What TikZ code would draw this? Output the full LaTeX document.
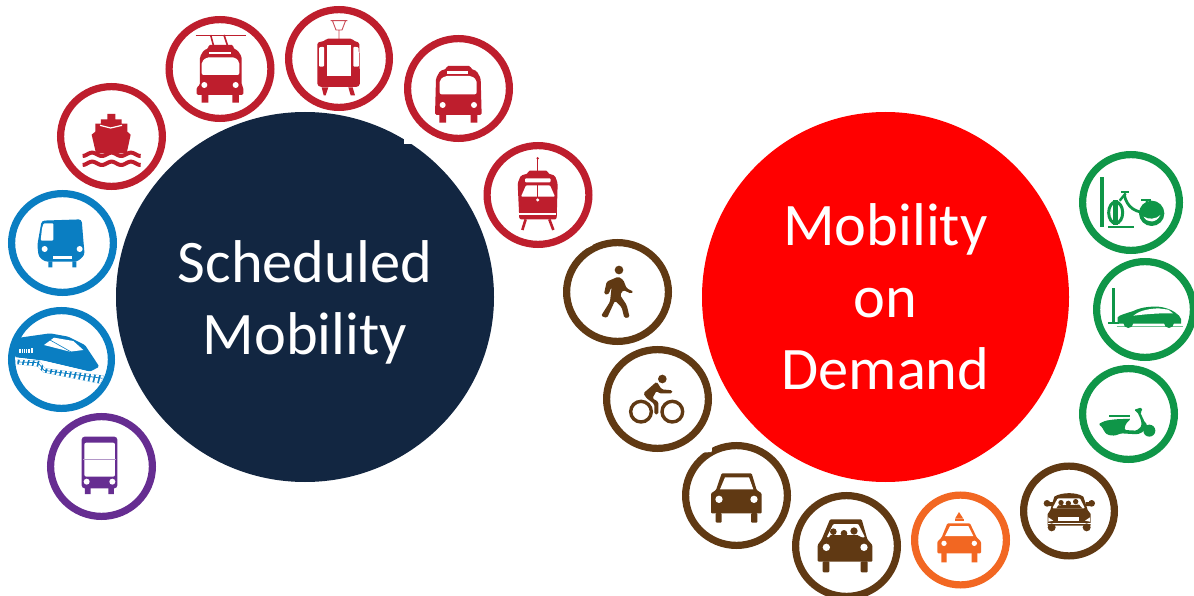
\documentclass[tikz,border=0pt]{standalone}
\usepackage{fontspec}
\setmainfont{Carlito}
\usetikzlibrary{shapes.geometric}
\definecolor{navy}{HTML}{122641}
\definecolor{crim}{HTML}{BE1E2D}
\definecolor{blu}{HTML}{0A7EC2}
\definecolor{purp}{HTML}{662D91}
\definecolor{brn}{HTML}{603913}
\definecolor{grn}{HTML}{0F9648}
\definecolor{org}{HTML}{F26722}
\tikzset{
  ring/.style n args={3}{ellipse,draw=#1,line width=7.2pt,fill=white,inner sep=0pt,outer sep=0pt,minimum width=#2pt-7.2pt,minimum height=#3pt-7.2pt},
  bigdisc/.style n args={3}{ellipse,fill=#1,inner sep=0pt,outer sep=0pt,minimum width=#2pt,minimum height=#3pt},
  bigtext/.style={text=white,inner sep=0pt,outer sep=0pt,align=center,font=\fontsize{60.4}{72}\selectfont},
  zoomed/.style 2 args={shift={(#1,#2)},x=0.33333pt,y=-0.33333pt},
}
\begin{document}
\begin{tikzpicture}[x=1pt,y=-1pt]
\useasboundingbox (0,0) rectangle (1194,596);
\fill[white] (0,0) rectangle (1194,596);
% big discs
\node[bigdisc={navy}{378}{370}] (sched) at (305,297) {};
\node[bigtext] (schedlabel) at (305,302) {Scheduled\\Mobility};
\node[bigdisc={red}{367}{370}] (mod) at (885.5,297) {};
\node[bigtext] (modlabel) at (885.5,297) {Mobility\\on\\Demand};
% rings
\node[ring={crim}{109}{107}] (ship) at (111.5,136.5) {};
\node[ring={crim}{109}{106}] (trolley) at (220,69) {};
\node[ring={crim}{108}{105}] (tram) at (339,58.5) {};
\node[ring={crim}{109}{107}] (bus) at (458.5,88.5) {};
\node[ring={crim}{109}{106}] (streetcar) at (538,195) {};
\node[ring={blu}{109}{106}] (metro) at (62.5,243) {};
\node[ring={blu}{107}{105}] (train) at (61.5,359.5) {};
\node[ring={purp}{109}{107}] (dbus) at (101.5,466.5) {};
\node[ring={grn}{104}{103}] (bikeshare) at (1131,202.5) {};
\node[ring={grn}{104}{103}] (carshare) at (1145,309.5) {};
\node[ring={grn}{99}{98}] (scooter) at (1128.5,414) {};
\node[ring={brn}{109}{106}] (walk) at (617.5,292) {};
\node[ring={brn}{109}{106}] (cycle) at (657.5,399) {};
\node[ring={brn}{109}{107}] (car) at (736.5,495.5) {};
\node[ring={brn}{109}{108}] (pool) at (846.5,546) {};
\node[ring={org}{99}{97}] (taxi) at (960.5,540) {};
\node[ring={brn}{98}{97}] (ride) at (1069,511) {};

% notches
\fill[white] (404,139) rectangle (413,144);
\begin{scope}[zoomed={555}{230}]
\fill[white] (88,38) -- (116,38) -- (112,46) -- (96,54) -- cycle;
\fill[white] (440,640) -- (472,640) -- (470,666) -- (440,668) -- cycle;
\end{scope}

% ---- crop 1
\begin{scope}[zoomed={0}{0}]
% ship
\fill[crim] (322,342) -- (346,342) -- (346,358) -- (365,358) -- (365,371) -- (382,371) -- (382,395) -- (392,404) -- (380,460) -- (288,460) -- (275,404) -- (286,395) -- (286,371) -- (303,371) -- (303,358) -- (322,358) -- cycle;
\draw[white,line width=1.2pt] (300,376) -- (332,384) -- (366,376);
\draw[crim,line width=4pt] plot[domain=248:422,samples=70,smooth] (\x,{463+5*sin(6.2*(\x-233))});
\draw[crim,line width=4pt] plot[domain=248:422,samples=70,smooth] (\x,{490+5*sin(6.2*(\x-233))});
% trolley bus
\draw[crim,line width=0.8pt] (587,105) -- (737,105);
\draw[crim,line width=1.6pt] (632,105) -- (640,135) (672,105) -- (682,135);
\fill[crim,rounded corners=1.5pt] (590,285) -- (590,262) -- (600,255) -- (600,170) -- (612,150) -- (625,146) -- (625,135) -- (700,135) -- (700,146) -- (712,150) -- (725,170) -- (725,255) -- (730,262) -- (730,285) -- cycle;
\fill[white,rounded corners=2pt] (605,225) -- (605,185) -- (620,172) -- (705,172) -- (718,185) -- (718,225) -- cycle;
\fill[white] (628,155) rectangle (692,163);
\fill[white] (613,255) circle (9) (707,255) circle (9);
\fill[crim] (605,284) rectangle (625,308) (697,284) rectangle (717,308);
% metro
\fill[blu,rounded corners=3pt] (125,662) -- (245,658) -- (250,720) -- (254,765) -- (232,785) -- (135,785) -- (116,770) -- (112,735) -- cycle;
\fill[white,rounded corners=1pt] (131,670) -- (160,670) -- (160,722) -- (122,722) -- (126,685) -- cycle;
\fill[white] (134,747) circle (9) (239,747) circle (9);
\fill[white] (158,768) rectangle (215,778);
\fill[blu] (145,784) rectangle (157,802) (217,784) rectangle (229,802);
\end{scope}

% ---- crop 2
\begin{scope}[zoomed={280}{0}]
% tram
\draw[crim!80,line width=0.9pt] (152,62) -- (202,62) (158,64) -- (168,90) -- (186,90) -- (196,64) (177,90) -- (177,118);
\fill[crim,rounded corners=1.5pt] (112,128) -- (135,122) -- (140,116) -- (216,116) -- (220,122) -- (238,128) -- (240,255) -- (232,261) -- (120,261) -- (112,255) -- cycle;
\fill[white] (140,135) rectangle (213,228);
\fill[white,rounded corners=1pt] (117,142) -- (132,140) -- (132,200) -- (117,200) -- cycle;
\fill[white,rounded corners=1pt] (220,140) -- (236,142) -- (237,200) -- (220,200) -- cycle;
\fill[crim] (125,262) -- (145,262) -- (137,286) -- (131,286) -- cycle;
\fill[crim] (205,262) -- (218,262) -- (225,286) -- (212,286) -- cycle;
% bus
\fill[crim,rounded corners=1.5pt] (500,198) -- (572,198) -- (572,206) -- (590,213) -- (602,235) -- (605,345) -- (465,345) -- (468,235) -- (480,213) -- (500,206) -- cycle;
\fill[white,rounded corners=2pt] (479,283) -- (479,240) -- (495,228) -- (575,228) -- (590,240) -- (590,283) -- cycle;
\fill[white] (502,212) rectangle (565,222);
\fill[white] (488,315) circle (9) (582,315) circle (9);
\fill[crim] (478,344) rectangle (498,368) (572,344) rectangle (592,368);
% streetcar
\draw[crim,line width=1.5pt] (773,475) -- (773,512);
\fill[crim] (773,475) circle (4);
\fill[crim,rounded corners=1.5pt] (745,520) -- (745,512) -- (803,512) -- (803,520) -- (825,527) -- (833,550) -- (830,658) -- (718,658) -- (713,550) -- (722,527) -- cycle;
\fill[white,rounded corners=1pt] (735,535) rectangle (812,547);
\fill[white,rounded corners=1pt] (738,556) -- (810,556) -- (825,590) -- (723,590) -- cycle;
\draw[crim,line width=1pt] (773,556) -- (773,590);
\fill[white] (773,600) circle (5);
\fill[white] (717,639) rectangle (829,645);
\draw[crim,line width=2.6pt] (737,658) -- (727,690) (808,658) -- (820,690);
\end{scope}

% ---- high speed train
\begin{scope}[zoomed={10}{325}]
\fill[blu,rounded corners=1.5pt] (15,40) -- (120,25) -- (175,35) -- (225,60) -- (268,125) -- (240,140) -- (100,107) -- (15,97) -- cycle;
\fill[white] (102,60) -- (132,38) -- (190,48) -- (220,75) -- (180,80) -- cycle;
\draw[blu,line width=0.6pt] (120,45) -- (182,80);
\fill[white] (28,72) rectangle (60,85);
\foreach \i in {33,39,45,51} \draw[blu,line width=0.7pt] (\i,72) -- (\i,85);
\fill[white] (64,70) rectangle (69,85);
\fill[white] (15,97) -- (100,107) -- (240,140) -- (250,146) -- (100,114) -- (15,103) -- cycle;
\begin{scope}
\clip (22,104) -- (88,107) -- (105,130) -- (282,152) -- (270,176) -- (100,142) -- (82,124) -- (22,118) -- cycle;
\fill[blu] (15,95) rectangle (290,180);
\foreach \i in {0,15,...,290} \draw[white,line width=3pt] (\i,180) -- (\i+22,95);
\draw[blu,line width=0.7pt] (22,111) -- (84,113) -- (102,136) -- (278,160);
\end{scope}
\end{scope}

% ---- double decker
\begin{scope}[zoomed={0}{300}]
\fill[purp,rounded corners=3pt] (245,565) -- (245,410) -- (352,410) -- (352,565) -- cycle;
\fill[white,rounded corners=2pt] (253,428) rectangle (345,530);
\draw[purp!50,line width=0.9pt] (250,477) -- (348,477);
\fill[white] (260,545) circle (9) (337,545) circle (9);
\fill[purp] (255,564) rectangle (272,582) (325,564) rectangle (342,582);
\end{scope}

% ---- bike station
\begin{scope}[zoomed={1095}{170}]
\fill[grn] (15,22) rectangle (28,170);
\fill[grn] (40,167) rectangle (118,175);
\draw[grn,line width=3pt] (62,128) ellipse (21 and 32);
\fill[grn] (55,90) rectangle (69,165);
\draw[grn,line width=2.8pt] (88,75) .. controls (95,110) and (120,132) .. (170,128);
\draw[grn,line width=2.4pt] (74,92) -- (92,70);
\draw[grn,line width=2.2pt] (78,65) -- (103,65);
\draw[grn,line width=2.6pt] (139,90) -- (169,90);
\draw[grn,line width=2pt] (155,92) -- (158,125);
\fill[grn] (170,130) circle (38);
\fill[white] (146,140) .. controls (155,160) and (185,160) .. (196,135) .. controls (185,147) and (160,150) .. cycle;
\end{scope}

% ---- car share
\begin{scope}[zoomed={1105}{285}]
\fill[grn] (20,10) rectangle (30,112);
\fill[grn] (10,112) rectangle (42,116);
\draw[grn!60,line width=1.2pt] (35,125) -- (235,125);
\fill[grn] (38,116) -- (38,97) .. controls (42,90) and (65,85) .. (85,78) .. controls (105,68) and (130,64) .. (160,65) .. controls (190,68) and (210,80) .. (222,92) -- (228,102) -- (228,116) -- cycle;
\fill[grn] (70,114) circle (15) (192,114) circle (15);
\fill[white] (85,92) .. controls (100,80) and (120,72) .. (160,70) -- (190,74) -- (204,85) .. controls (160,84) and (120,88) .. cycle;
\end{scope}

% ---- scooter
\begin{scope}[zoomed={1095}{400}]
\fill[grn] (163,92) circle (18);
\fill[grn] (42,44) rectangle (105,51);
\fill[grn,rounded corners=1.5pt] (10,72) -- (32,62) -- (60,58) -- (108,56) -- (92,72) -- (88,90) -- (125,92) -- (140,78) -- (138,60) -- (127,36) -- (116,30) -- (140,22) -- (142,34) -- (135,36) -- (150,68) -- (158,74) -- (145,95) -- (128,103) -- (78,100) -- (60,107) -- (38,105) -- (28,95) -- (22,82) -- cycle;
\end{scope}

% ---- ride hail
\begin{scope}[zoomed={1035}{480}]
\fill[brn] (38,137) -- (38,102) -- (46,90) -- (58,50) .. controls (80,36) and (125,36) .. (145,50) -- (158,90) -- (167,102) -- (167,137) -- cycle;
\fill[brn] (36,70) circle (10) (170,70) circle (10);
\fill[brn] (36,66) rectangle (54,78) (152,66) rectangle (170,78);
\fill[white,rounded corners=1pt] (68,55) -- (135,55) -- (150,85) -- (52,85) -- cycle;
\fill[brn] (78,68) circle (8) (100,70) circle (8) (122,65) circle (8);
\fill[brn] (64,85) -- (70,76) -- (132,74) -- (142,85) -- cycle;
\fill[white] (40,112) -- (55,122) -- (40,125) -- cycle;
\fill[white] (165,112) -- (150,122) -- (165,125) -- cycle;
\fill[white] (70,112) rectangle (133,122);
\fill[white] (38,130) rectangle (167,133);
\fill[brn] (50,142) circle (12) (155,142) circle (12);
\end{scope}

% ---- crop 5
\begin{scope}[zoomed={780}{450}]
% carpool
\fill[brn,rounded corners=1pt] (113,335) -- (113,285) -- (125,268) -- (150,208) -- (245,208) -- (262,268) -- (277,285) -- (277,335) -- cycle;
\fill[white,rounded corners=1pt] (160,222) -- (235,222) -- (255,262) -- (140,262) -- cycle;
\fill[brn] (160,245) circle (10) (192,250) circle (10) (222,243) circle (11);
\fill[brn] (145,264) -- (152,255) -- (232,255) -- (248,264) -- cycle;
\fill[white] (139,292) circle (11) (252,292) circle (11);
\fill[brn,rounded corners=1pt] (128,334) rectangle (148,367) (242,334) rectangle (263,367);
% taxi
\fill[org] (537,186) -- (550,206) -- (525,206) -- cycle;
\fill[org] (525,206) rectangle (552,214);
\fill[org,rounded corners=1pt] (472,310) -- (472,275) -- (485,262) -- (502,220) -- (570,220) -- (590,262) -- (603,275) -- (603,310) -- cycle;
\fill[white] (510,228) -- (565,228) -- (580,258) -- (495,258) -- cycle;
\fill[white] (492,280) circle (8) (583,280) circle (8);
\fill[org] (484,309) rectangle (500,337) (575,309) rectangle (592,337);
\end{scope}

% ---- crop 6
\begin{scope}[zoomed={555}{230}]
% walker
\fill[brn] (192,120) circle (13);
\fill[brn,rounded corners=1.5pt] (155,155) -- (190,140) -- (205,150) -- (215,175) -- (236,185) -- (228,191) -- (205,180) -- (195,195) -- (215,225) -- (224,262) -- (208,264) -- (200,232) -- (180,212) -- (156,264) -- (138,258) -- (165,215) -- (170,170) -- (160,194) -- (147,192) -- cycle;
% cyclist
\fill[brn] (322,447) circle (13);
\draw[brn,line width=3.4pt] (258,545) circle (31) (352,545) circle (31);
\fill[brn,rounded corners=1.5pt] (265,490) -- (305,455) -- (320,478) -- (352,481) -- (352,490) -- (312,490) -- (305,482) -- (292,505) -- (310,515) -- (310,553) -- (298,553) -- (298,522) -- (275,505) -- cycle;
% car
\fill[brn,rounded corners=1pt] (468,850) -- (468,790) -- (483,780) -- (500,730) -- (590,730) -- (605,780) -- (620,790) -- (620,850) -- cycle;
\fill[white] (510,742) -- (582,742) -- (595,778) -- (495,778) -- cycle;
\fill[white] (492,808) circle (11) (597,808) circle (11);
\fill[brn,rounded corners=1pt] (482,849) rectangle (500,878) (588,849) rectangle (607,878);
\end{scope}
\end{tikzpicture}
\end{document}
